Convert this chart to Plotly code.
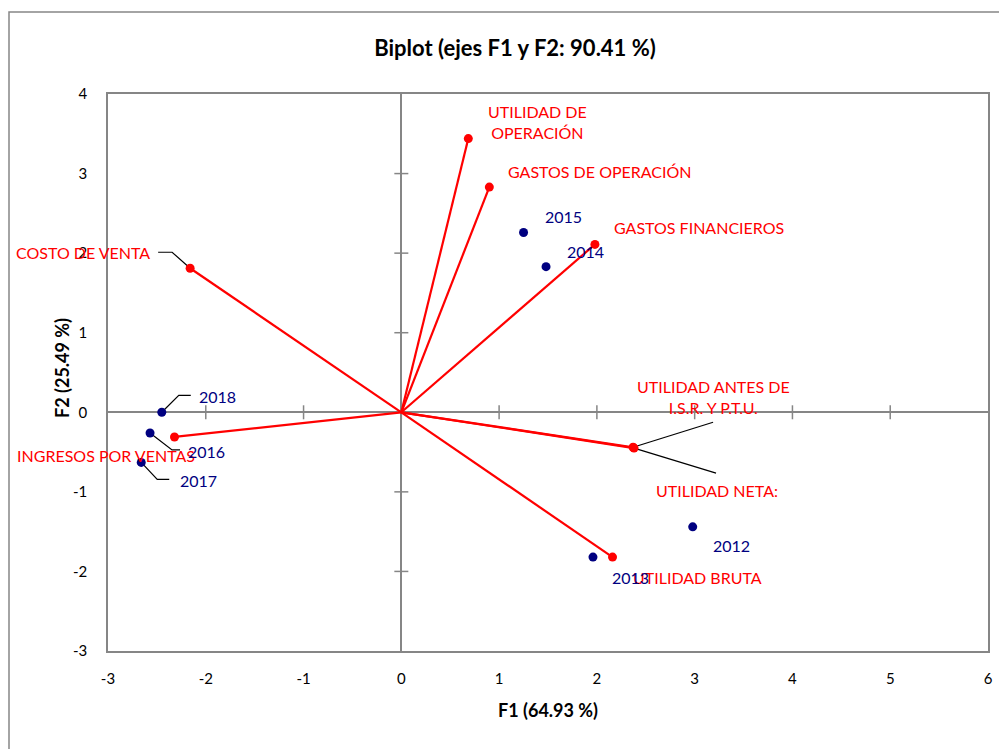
import plotly.graph_objects as go

# ---------------- data ----------------
var_names = ["UTILIDAD DE<br>OPERACIÓN", "GASTOS DE OPERACIÓN", "GASTOS FINANCIEROS",
             "COSTO DE VENTA", "INGRESOS POR VENTAS", "UTILIDAD ANTES DE<br>I.S.R. Y P.T.U.",
             "UTILIDAD NETA:", "UTILIDAD BRUTA"]
var_f1 = [0.685, 0.90, 1.98, -2.16, -2.32, 2.37, 2.38, 2.16]
var_f2 = [3.44, 2.83, 2.11, 1.81, -0.31, -0.44, -0.45, -1.82]

obs_names = ["2015", "2014", "2018", "2016", "2017", "2012", "2013"]
obs_f1 = [1.25, 1.48, -2.45, -2.57, -2.66, 2.98, 1.96]
obs_f2 = [2.26, 1.83, 0.0, -0.26, -0.63, -1.44, -1.82]

x_ticks = [-3, -2, -1, 0, 1, 2, 3, 4, 5, 6]
y_ticks = [-3, -2, -1, 0, 1, 2, 3, 4]
x_ticktext = [str(t) for t in x_ticks]
y_ticktext = [str(t) for t in y_ticks]

# ---------------- layout constants ----------------
# page body has an 8px margin, so the figure is drawn 8px right/down
W, H = 999, 741
ML, MR, MT, MB = 100, 19, 86, 98
XR = [-3, 6]
YR = [-3, 4]
PW, PH = W - ML - MR, H - MT - MB
kx = PW / (XR[1] - XR[0])
ky = PH / (YR[1] - YR[0])

FONT = "Lato"
RED = "#FF0000"
NAVY = "#000080"
GRAY = "#868686"

# label offsets (px, screen: dx right, dy down) from point to label centre
var_lab_off = [(69, -17), (111, -16), (104, -17), (-107, -16), (-68, 19), (80, -50), (83, 42), (85, 20)]
obs_lab_off = [(40, -16), (39, -15), (56, -16), (56, 19), (57, 18), (39, 19), (38, 20)]

# leader lines: (kind, index, list of px offsets)
leaders = [("v", 3, [(-18, -16), (-32, -16)]),
           ("v", 5, [(80, -25)]),
           ("v", 6, [(82, 25)]),
           ("o", 2, [(17, -17), (29, -17)]),
           ("o", 3, [(22, 17), (30, 17)]),
           ("o", 4, [(16, 17), (28, 17)])]

fig = go.Figure()

# tick marks on the zero axes
fig.add_trace(go.Scatter(x=[t for t in x_ticks if t not in (XR[0], XR[1])],
                         y=[0] * (len(x_ticks) - 2), mode="markers",
                         marker=dict(symbol="line-ns", size=10, line=dict(color=GRAY, width=1.5)),
                         hoverinfo="skip", showlegend=False, cliponaxis=False))
fig.add_trace(go.Scatter(x=[0] * (len(y_ticks) - 2),
                         y=[t for t in y_ticks if t not in (YR[0], YR[1])], mode="markers",
                         marker=dict(symbol="line-ew", size=10, line=dict(color=GRAY, width=1.5)),
                         hoverinfo="skip", showlegend=False, cliponaxis=False))

# vectors
for i in range(len(var_names)):
    fig.add_trace(go.Scatter(x=[0, var_f1[i]], y=[0, var_f2[i]], mode="lines",
                             line=dict(color=RED, width=2.2), showlegend=False, hoverinfo="skip"))

# leader lines
for kind, i, offs in leaders:
    bx = var_f1[i] if kind == "v" else obs_f1[i]
    by = var_f2[i] if kind == "v" else obs_f2[i]
    xs = [bx] + [bx + dx / kx for dx, dy in offs]
    ys = [by] + [by - dy / ky for dx, dy in offs]
    fig.add_trace(go.Scatter(x=xs, y=ys, mode="lines", line=dict(color="black", width=1.2),
                             showlegend=False, hoverinfo="skip"))

fig.add_trace(go.Scatter(x=var_f1, y=var_f2, mode="markers",
                         marker=dict(color=RED, size=9), showlegend=False))
fig.add_trace(go.Scatter(x=obs_f1, y=obs_f2, mode="markers",
                         marker=dict(color=NAVY, size=9), showlegend=False))

anns = []
for i, n in enumerate(var_names):
    dx, dy = var_lab_off[i]
    anns.append(dict(x=var_f1[i], y=var_f2[i], text=n, showarrow=False, xshift=dx, yshift=-dy,
                     font=dict(family=FONT, size=16, color=RED), align="center"))
for i, n in enumerate(obs_names):
    dx, dy = obs_lab_off[i]
    anns.append(dict(x=obs_f1[i], y=obs_f2[i], text=n, showarrow=False, xshift=dx, yshift=-dy,
                     font=dict(family=FONT, size=16, color=NAVY)))

# axis titles
anns.append(dict(xref="paper", yref="paper", x=0.5, y=-(710 - 8 - (MT + PH)) / PH,
                 xanchor="center", yanchor="middle",
                 text="<b>F1 (64.93 %)</b>", showarrow=False,
                 font=dict(family=FONT, size=18, color="black")))
anns.append(dict(xref="paper", yref="paper", x=(62 - 8 - ML) / PW, y=(MT + PH - (368 - 8)) / PH,
                 xanchor="center", yanchor="middle",
                 text="<b>F2 (25.49 %)</b>", showarrow=False, textangle=-90,
                 font=dict(family=FONT, size=18, color="black")))

fig.update_layout(
    width=W, height=H, margin=dict(l=ML, r=MR, t=MT, b=MB),
    paper_bgcolor="white", plot_bgcolor="white",
    title=dict(text="<b>Biplot (ejes F1 y F2: 90.41 %)</b>", x=(515 - 8) / W, xanchor="center",
               y=1 - 40 / H, yanchor="middle", font=dict(family=FONT, size=22, color="black")),
    annotations=anns,
    xaxis=dict(range=XR, tickvals=x_ticks, ticktext=x_ticktext, showgrid=False, zeroline=True,
               zerolinecolor=GRAY, zerolinewidth=1.5, showline=True, linecolor=GRAY, linewidth=1.5,
               mirror=True, ticks="", ticklabelstandoff=13,
               tickfont=dict(family=FONT, size=15, color="black")),
    yaxis=dict(range=YR, tickvals=y_ticks, ticktext=y_ticktext, showgrid=False, zeroline=True,
               zerolinecolor=GRAY, zerolinewidth=1.5, showline=True, linecolor=GRAY, linewidth=1.5,
               mirror=True, ticks="", ticklabelstandoff=16,
               tickfont=dict(family=FONT, size=15, color="black")),
    shapes=[dict(type="rect", xref="paper", yref="paper",
                 x0=(1 - ML) / PW, x1=(W + 5 - ML) / PW,
                 y0=-(MB + 5) / PH, y1=(H - MB - 4) / PH,
                 line=dict(color=GRAY, width=1.5), layer="below")],
)

fig.write_html("out.html")
